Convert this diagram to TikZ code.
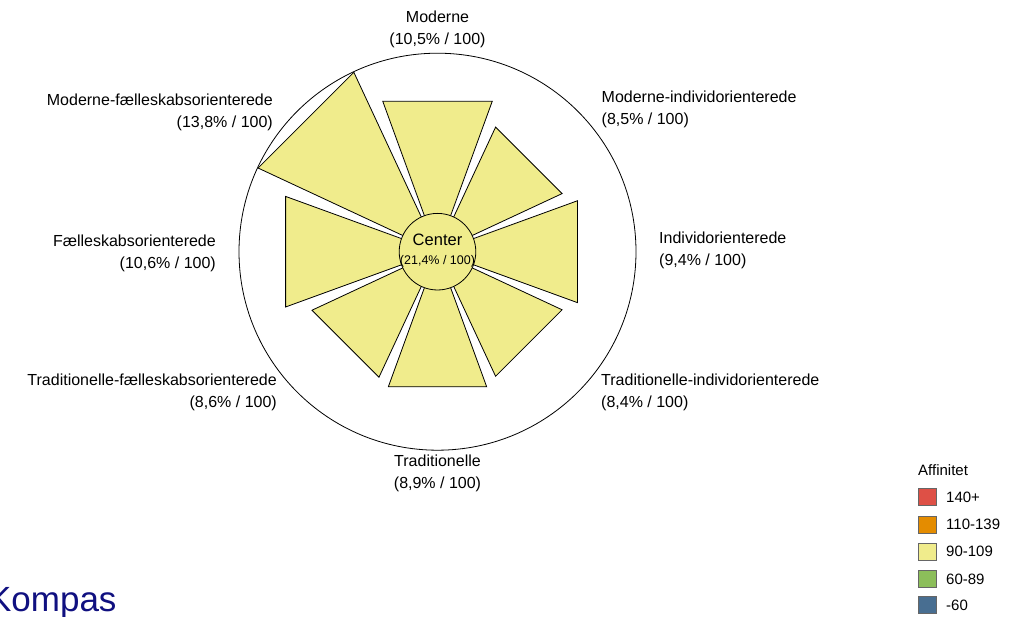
\documentclass[tikz,border=0pt]{standalone}
\usepackage{fontspec}
\setmainfont{Liberation Sans}
\usepackage{tikz}
\definecolor{affyellow}{RGB}{240,236,140}
\definecolor{affred}{RGB}{222,80,70}
\definecolor{afforange}{RGB}{228,140,0}
\definecolor{affgreen}{RGB}{140,190,90}
\definecolor{affblue}{RGB}{72,110,145}
\definecolor{kompasblue}{RGB}{16,16,128}

\begin{document}
\begin{tikzpicture}[x=1pt,y=1pt,
    wedge/.style={draw=black, line width=0.8pt, fill=affyellow},
    lbl/.style={font=\fontsize{16}{22}\selectfont, inner sep=0pt},
    legbox/.style={draw=black!60, line width=0.6pt, minimum width=18pt, minimum height=17pt, inner sep=0pt},
    legtxt/.style={font=\fontsize{15}{18}\selectfont, anchor=west, inner sep=0pt}]
    \useasboundingbox (0,0) rectangle (1017,616);

    \coordinate (c) at (437.5,364.3);
    \draw[line width=0.8pt] (c) circle (198.5);

    % segments, 40 degrees each
    \begin{scope}[shift={(c)}]
        \draw[wedge] (70:30) -- (70:160) -- (110:160) -- (110:30) -- cycle;
        \draw[wedge] (115:30) -- (115:198) -- (155:198) -- (155:30) -- cycle;
        \draw[wedge] (160:30) -- (160:161.6) -- (200:161.6) -- (200:30) -- cycle;
        \draw[wedge] (205:30) -- (205:138.5) -- (245:138.5) -- (245:30) -- cycle;
        \draw[wedge] (250:30) -- (250:143.8) -- (290:143.8) -- (290:30) -- cycle;
        \draw[wedge] (295:30) -- (295:137.5) -- (335:137.5) -- (335:30) -- cycle;
        \draw[wedge] (-20:30) -- (-20:149) -- (20:149) -- (20:30) -- cycle;
        \draw[wedge] (25:30) -- (25:137.5) -- (65:137.5) -- (65:30) -- cycle;
    \end{scope}

    \node[circle, draw, fill=affyellow, line width=0.8pt, minimum size=76.6pt, inner sep=0pt] (ctr) at (c) {};
    \node[font=\fontsize{16.5}{18}\selectfont, inner sep=0pt] (ctrname) at (437.5,376) {Center};
    \node[font=\fontsize{12.5}{14}\selectfont, inner sep=0pt] (ctrval) at (437.5,355) {(21,4\% / 100)};

    % labels
    \node[lbl, align=center] (moderne) at (437.5,586.5) {Moderne\\(10,5\% / 100)};
    \node[lbl, align=right, anchor=east] (modfael) at (273,503.6) {Moderne-fælleskabsorienterede\\(13,8\% / 100)};
    \node[lbl, align=left, anchor=west] (modind) at (601.5,507) {Moderne-individorienterede\\(8,5\% / 100)};
    \node[lbl, align=right, anchor=east] (fael) at (216,363) {Fælleskabsorienterede\\(10,6\% / 100)};
    \node[lbl, align=left, anchor=west] (ind) at (659,365.5) {Individorienterede\\(9,4\% / 100)};
    \node[lbl, align=right, anchor=east] (tradfael) at (277,223.6) {Traditionelle-fælleskabsorienterede\\(8,6\% / 100)};
    \node[lbl, align=left, anchor=west] (tradind) at (601,224) {Traditionelle-individorienterede\\(8,4\% / 100)};
    \node[lbl, align=center] (trad) at (437.5,142.5) {Traditionelle\\(8,9\% / 100)};

    \node[font=\fontsize{35}{40}\selectfont, text=kompasblue, anchor=base east, inner sep=0pt] (kompas) at (116.7,4.3) {Kompas};

    % legend
    \node[legtxt] (afftitle) at (918,146) {Affinitet};
    \node[legbox, fill=affred] (box1) at (927,119) {};
    \node[legbox, fill=afforange] (box2) at (927,91.7) {};
    \node[legbox, fill=affyellow] (box3) at (927,64.3) {};
    \node[legbox, fill=affgreen] (box4) at (927,37) {};
    \node[legbox, fill=affblue] (box5) at (927,11) {};
    \node[legtxt] (leg1) at (946,119) {140+};
    \node[legtxt] (leg2) at (946,91.7) {110-139};
    \node[legtxt] (leg3) at (946,64.3) {90-109};
    \node[legtxt] (leg4) at (946,37) {60-89};
    \node[legtxt] (leg5) at (946,11) {-60};
\end{tikzpicture}
\end{document}
